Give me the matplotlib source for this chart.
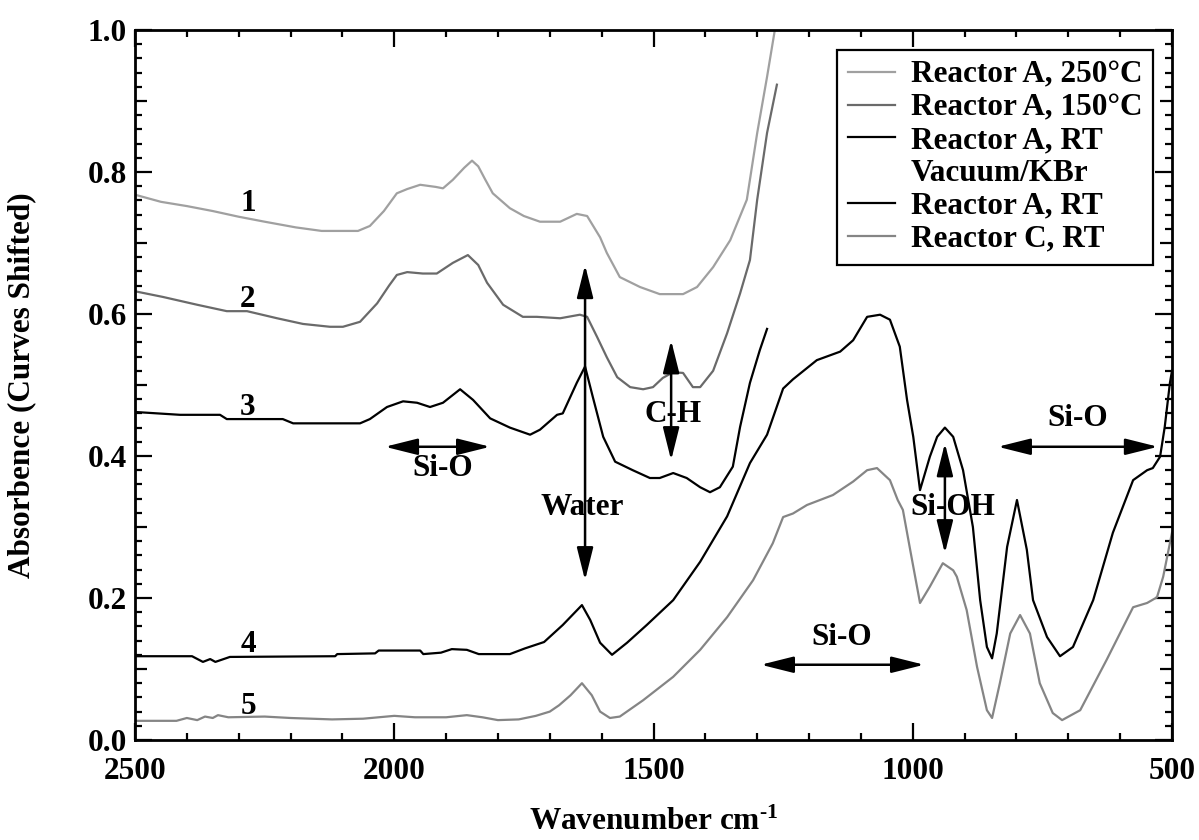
import numpy as np
import matplotlib
matplotlib.use('Agg')
import matplotlib.pyplot as plt
from matplotlib.ticker import MultipleLocator, FuncFormatter
from matplotlib.lines import Line2D

plt.rcParams['font.family'] = 'Liberation Serif'
plt.rcParams['font.weight'] = 'bold'
plt.rcParams['axes.labelweight'] = 'bold'
plt.rcParams['mathtext.fontset'] = 'custom'
plt.rcParams['mathtext.rm'] = 'Liberation Serif:bold'
plt.rcParams['mathtext.default'] = 'rm'

FS = 22.5

# === ДАННЫЕ ===
wn1 = [2500, 2450, 2400, 2350, 2300, 2250, 2190, 2140, 2070, 2047, 2020, 1995,
       1975, 1950, 1920, 1906, 1887, 1865, 1850, 1838, 1825, 1810, 1777, 1750,
       1719, 1680, 1648, 1628, 1603, 1590, 1565, 1526, 1488, 1443, 1416, 1385,
       1352, 1320, 1300, 1281, 1266]
ab1 = [0.768, 0.758, 0.752, 0.745, 0.737, 0.730, 0.722, 0.717, 0.717, 0.724,
       0.745, 0.770, 0.776, 0.782, 0.779, 0.777, 0.789, 0.806, 0.816, 0.808,
       0.790, 0.770, 0.749, 0.738, 0.730, 0.730, 0.741, 0.738, 0.708, 0.686,
       0.652, 0.638, 0.628, 0.628, 0.638, 0.666, 0.704, 0.761, 0.855, 0.934,
       1.0]

wn2 = [2500, 2446, 2380, 2323, 2284, 2226, 2176, 2124, 2099, 2066, 2033, 2010,
       1995, 1975, 1945, 1918, 1887, 1858, 1838, 1821, 1790, 1752, 1725, 1680,
       1642, 1628, 1609, 1590, 1570, 1545, 1520, 1501, 1482, 1462, 1443, 1424,
       1410, 1385, 1358, 1333, 1314, 1300, 1281, 1262]
ab2 = [0.632, 0.624, 0.613, 0.604, 0.604, 0.594, 0.586, 0.582, 0.582, 0.589,
       0.615, 0.640, 0.655, 0.659, 0.657, 0.657, 0.672, 0.683, 0.669, 0.644,
       0.613, 0.596, 0.596, 0.594, 0.599, 0.596, 0.568, 0.539, 0.511, 0.497,
       0.494, 0.497, 0.510, 0.518, 0.517, 0.497, 0.497, 0.520, 0.573, 0.629,
       0.676, 0.761, 0.855, 0.923]

wn3 = [2500, 2413, 2336, 2323, 2215, 2195, 2066, 2047, 2014, 1983, 1956, 1931,
       1906, 1873, 1848, 1815, 1777, 1738, 1719, 1686, 1675, 1648, 1632, 1617,
       1597, 1574, 1540, 1507, 1488, 1462, 1436, 1410, 1391, 1372, 1347, 1333,
       1314, 1295, 1281]
ab3 = [0.462, 0.458, 0.458, 0.452, 0.452, 0.446, 0.446, 0.452, 0.469, 0.477,
       0.475, 0.469, 0.475, 0.494, 0.479, 0.453, 0.440, 0.430, 0.437, 0.458,
       0.460, 0.503, 0.526, 0.483, 0.427, 0.392, 0.380, 0.369, 0.369, 0.376,
       0.369, 0.356, 0.349, 0.356, 0.385, 0.441, 0.503, 0.549, 0.579]

wn4 = [2500, 2390, 2369, 2355, 2345, 2317, 2114, 2110, 2037, 2030, 1950, 1944,
       1910, 1889, 1860, 1837, 1777, 1748, 1711, 1675, 1638, 1622, 1603, 1580,
       1551, 1513, 1462, 1410, 1358, 1314, 1281, 1250, 1231, 1185, 1140, 1115,
       1088, 1063, 1044, 1025, 1011, 999, 986, 967, 953, 938, 922, 903, 884,
       870, 857, 847, 838, 818, 799, 780, 768, 741, 716, 691, 652, 614, 575,
       548, 537, 523, 514, 504, 500]
ab4 = [0.118, 0.118, 0.110, 0.114, 0.110, 0.117, 0.118, 0.121, 0.122, 0.126,
       0.126, 0.121, 0.123, 0.128, 0.127, 0.121, 0.121, 0.129, 0.138, 0.162,
       0.190, 0.169, 0.137, 0.120, 0.137, 0.162, 0.197, 0.251, 0.315, 0.390,
       0.430, 0.495, 0.508, 0.535, 0.547, 0.563, 0.596, 0.599, 0.592, 0.554,
       0.479, 0.427, 0.352, 0.399, 0.427, 0.440, 0.427, 0.380, 0.300, 0.197,
       0.131, 0.115, 0.150, 0.272, 0.338, 0.268, 0.197, 0.145, 0.118, 0.131,
       0.197, 0.292, 0.366, 0.380, 0.383, 0.399, 0.441, 0.503, 0.520]

wn5 = [2500, 2420, 2400, 2380, 2365, 2350, 2340, 2320, 2250, 2200, 2120, 2060,
       2000, 1960, 1900, 1860, 1830, 1800, 1760, 1727, 1700, 1682, 1660, 1638,
       1619, 1603, 1584, 1565, 1520, 1462, 1410, 1358, 1308, 1270, 1250, 1231,
       1204, 1154, 1115, 1088, 1069, 1044, 1029, 1019, 1005, 986, 967, 942,
       922, 915, 896, 876, 857, 847, 832, 812, 793, 774, 755, 730, 712, 677,
       626, 575, 548, 529, 517, 500]
ab5 = [0.027, 0.027, 0.031, 0.028, 0.033, 0.031, 0.035, 0.032, 0.033, 0.031,
       0.029, 0.030, 0.034, 0.032, 0.032, 0.035, 0.032, 0.028, 0.029, 0.034,
       0.040, 0.049, 0.063, 0.080, 0.063, 0.040, 0.031, 0.033, 0.056, 0.089,
       0.127, 0.173, 0.225, 0.277, 0.314, 0.319, 0.331, 0.345, 0.364, 0.380,
       0.383, 0.366, 0.338, 0.324, 0.268, 0.193, 0.216, 0.249, 0.239, 0.230,
       0.183, 0.103, 0.042, 0.031, 0.080, 0.150, 0.176, 0.150, 0.080, 0.038,
       0.028, 0.042, 0.113, 0.187, 0.193, 0.201, 0.230, 0.292]

curves = [(wn1, ab1), (wn2, ab2), (wn3, ab3), (wn4, ab4), (wn5, ab5)]
colors = ['#a0a0a0', '#6a6a6a', 'black', 'black', '#858585']
curve_nums = ['1', '2', '3', '4', '5']
num_y = [0.756, 0.620, 0.469, 0.134, 0.047]

legend_labels = ['Reactor A, 250°C', 'Reactor A, 150°C', 'Reactor A, RT',
                 'Vacuum/KBr', 'Reactor A, RT', 'Reactor C, RT']
legend_colors = ['#a0a0a0', '#6a6a6a', 'black', 'none', 'black', '#858585']

# (xy1, xy2, текст, позиция текста)
arrows = [
    ((2018, 0.413), (1815, 0.413), 'Si-O', (1906, 0.383)),
    ((1632, 0.669), (1632, 0.225), 'Water', (1638, 0.328)),
    ((1466, 0.563), (1466, 0.394), 'C-H', (1462, 0.458)),
    ((1293, 0.106), (978, 0.106), 'Si-O', (1138, 0.145)),
    ((938, 0.418), (938, 0.263), 'Si-OH', (922, 0.327)),
    ((836, 0.413), (527, 0.413), 'Si-O', (681, 0.453)),
]

# === ГРАФИК ===
fig = plt.figure(figsize=(11.99, 8.4), dpi=100)
ax = fig.add_axes([135 / 1199, 1 - 740 / 840, 1037 / 1199, 710 / 840])

for (x, y), c in zip(curves, colors):
    ax.plot(x, y, color=c, lw=1.6)

for n, yv in zip(curve_nums, num_y):
    ax.text(2282, yv, n, fontsize=FS, ha='center', va='center')

for p1, p2, txt, tp in arrows:
    ax.annotate('', xy=p2, xytext=p1,
                arrowprops=dict(arrowstyle='<|-|>,head_length=1.0,head_width=0.25',
                                color='black', lw=1.8, shrinkA=0, shrinkB=0,
                                mutation_scale=20))
    ax.text(tp[0], tp[1], txt, fontsize=FS, ha='center', va='center')

ax.set_xlim(2500, 500)
ax.set_ylim(0, 1.0)

ax.xaxis.set_major_locator(MultipleLocator(500))
ax.xaxis.set_minor_locator(MultipleLocator(100))
ax.yaxis.set_major_locator(MultipleLocator(0.1))
ax.yaxis.set_minor_locator(MultipleLocator(0.02))
ax.yaxis.set_major_formatter(FuncFormatter(
    lambda v, p: f'{v:.1f}' if round(v * 10) % 2 == 0 else ''))

ax.tick_params(which='both', direction='in', top=True, right=True,
               width=1.6, labelsize=FS)
ax.tick_params(which='major', length=12.5)
ax.tick_params(which='minor', length=5)
ax.tick_params(axis='y', pad=6)
ax.tick_params(axis='x', pad=12)

# средние риски на 0.1
locs = ax.yaxis.get_majorticklocs()
for loc, t in zip(locs, ax.yaxis.get_major_ticks(len(locs))):
    if round(loc * 10) % 2 == 1:
        t.tick1line.set_markersize(8.5)
        t.tick2line.set_markersize(8.5)

for s in ax.spines.values():
    s.set_linewidth(2.0)

ax.set_xlabel(r'Wavenumber cm$^{\text{-1}}$', fontsize=FS, va='center')
ax.xaxis.set_label_coords(0.5, (740 - 822) / 710)
ax.set_ylabel('Absorbence (Curves Shifted)', fontsize=FS, va='center')
ax.yaxis.set_label_coords((22 - 135) / 1037, 0.5)

handles = [Line2D([], [], color=c, lw=1.6) for c in legend_colors]
leg = ax.legend(handles, legend_labels, loc='upper right',
                bbox_to_anchor=(0.982, 0.972), borderaxespad=0,
                fontsize=FS, fancybox=False, framealpha=1,
                handlelength=1.5, handletextpad=0.5, labelspacing=0.12,
                borderpad=0.35)
leg.get_frame().set_edgecolor('black')
leg.get_frame().set_linewidth(1.6)

fig.savefig('out.png', dpi=100)
